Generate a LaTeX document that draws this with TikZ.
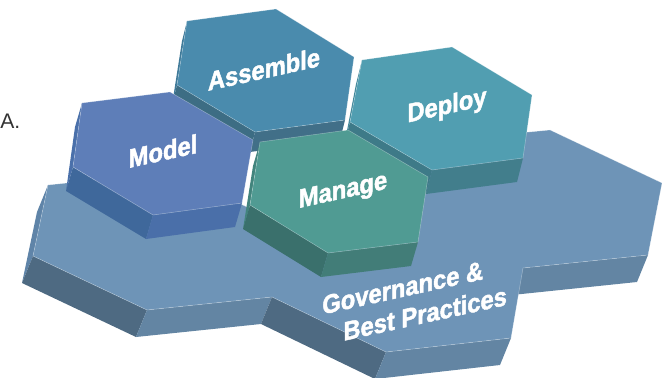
\documentclass[tikz,border=0pt]{standalone}
\usepackage{fontspec}
\setmainfont{Liberation Sans}
\newfontfamily\hexfont[FakeStretch=0.9, FakeBold=1.8]{Liberation Sans Bold}
\usetikzlibrary{calc}

\definecolor{basetop}{HTML}{6E94B7}
\definecolor{baseleft}{HTML}{5F84A8}
\definecolor{baselow}{HTML}{4E6A82}
\definecolor{basebot}{HTML}{6385A3}
\definecolor{modtop}{HTML}{5E7EB8}
\definecolor{modleft}{HTML}{4A70AA}
\definecolor{modlow}{HTML}{3F689B}
\definecolor{modbot}{HTML}{4A6FA9}
\definecolor{asmtop}{HTML}{4A8BAD}
\definecolor{asmleft}{HTML}{3F7A99}
\definecolor{asmlow}{HTML}{3D6D84}
\definecolor{asmbot}{HTML}{416F88}
\definecolor{deptop}{HTML}{519EB1}
\definecolor{depleft}{HTML}{43899B}
\definecolor{deplow}{HTML}{3E7A88}
\definecolor{depbot}{HTML}{427E8C}
\definecolor{mantop}{HTML}{509B93}
\definecolor{manleft}{HTML}{42847D}
\definecolor{manlow}{HTML}{3A706C}
\definecolor{manbot}{HTML}{427D78}

% #1 prefix of the corners (1 top left ... 6 left), #2 depth shift,
% #3 top, #4 left strip, #5 lower left side, #6 bottom side
\newcommand{\hexblock}[6]{%
  \fill[#4] (#1-1) -- (#1-6) -- ([shift={#2}]#1-6) -- ([shift={#2}]#1-1) -- cycle;
  \fill[#5] (#1-6) -- (#1-5) -- ([shift={#2}]#1-5) -- ([shift={#2}]#1-6) -- cycle;
  \fill[#6] (#1-5) -- (#1-4) -- ([shift={#2}]#1-4) -- ([shift={#2}]#1-5) -- cycle;
  \path[topface, fill=#3] (#1-1) -- (#1-2) -- (#1-3) -- (#1-4) -- (#1-5) -- (#1-6) -- cycle;
}

\begin{document}
\begin{tikzpicture}[x=0.02cm, y=-0.02cm,
  topface/.style={draw=white, draw opacity=0.35, line width=0.3pt, line join=round},
  hexlabel/.style={text=white, inner sep=0pt, yslant=0.22,
    font=\hexfont\fontsize{15}{17.6}\selectfont}]
  \useasboundingbox (0,0) rectangle (662,378);

  % base plate
  \coordinate (b1) at (48,185);
  \coordinate (b2) at (173,172);
  \coordinate (b3) at (287,226);
  \coordinate (b4) at (412,213);
  \coordinate (b5) at (427,142);
  \coordinate (b6) at (550,130);
  \coordinate (b7) at (662,183);
  \coordinate (b8) at (648,255);
  \coordinate (b9) at (523,268);
  \coordinate (b10) at (511,338);
  \coordinate (b11) at (386,352);
  \coordinate (b12) at (272,297);
  \coordinate (b13) at (147,310);
  \coordinate (b14) at (33,256);

  \fill[baseleft] (b1) -- (b14) -- ([shift={(-11,27)}]b14) -- ([shift={(-11,27)}]b1) -- cycle;
  \fill[baselow] (b14) -- (b13) -- ([shift={(-11,27)}]b13) -- ([shift={(-11,27)}]b14) -- cycle;
  \fill[basebot] (b13) -- (b12) -- ([shift={(-11,27)}]b12) -- ([shift={(-11,27)}]b13) -- cycle;
  \fill[baselow] (b12) -- (b11) -- ([shift={(-11,27)}]b11) -- ([shift={(-11,27)}]b12) -- cycle;
  \fill[basebot] (b11) -- (b10) -- ([shift={(-11,27)}]b10) -- ([shift={(-11,27)}]b11) -- cycle;
  \fill[basebot] (b9) -- (b8) -- ([shift={(-11,27)}]b8) -- ([shift={(-11,27)}]b9) -- cycle;
  \path[topface, fill=basetop] (b1) -- (b2) -- (b3) -- (b4) -- (b5) -- (b6) -- (b7)
    -- (b8) -- (b9) -- (b10) -- (b11) -- (b12) -- (b13) -- (b14) -- cycle;

  % Assemble
  \coordinate (as-1) at (187,21);
  \coordinate (as-2) at (276,9);
  \coordinate (as-3) at (354,57);
  \coordinate (as-4) at (345,120);
  \coordinate (as-5) at (255,132);
  \coordinate (as-6) at (177,85);
  \hexblock{as}{(-5,20)}{asmtop}{asmleft}{asmlow}{asmbot}

  % Deploy
  \coordinate (de-1) at (362,60);
  \coordinate (de-2) at (452,47);
  \coordinate (de-3) at (532,95);
  \coordinate (de-4) at (523,158);
  \coordinate (de-5) at (432,170);
  \coordinate (de-6) at (350,122);
  \hexblock{de}{(-6,24)}{deptop}{depleft}{deplow}{depbot}

  % Model
  \coordinate (mo-1) at (82,103);
  \coordinate (mo-2) at (170,92);
  \coordinate (mo-3) at (253,140);
  \coordinate (mo-4) at (242,203);
  \coordinate (mo-5) at (153,215);
  \coordinate (mo-6) at (73,167);
  \hexblock{mo}{(-7,24)}{modtop}{modleft}{modlow}{modbot}

  % Manage
  \coordinate (ma-1) at (260,142);
  \coordinate (ma-2) at (348,130);
  \coordinate (ma-3) at (428,177);
  \coordinate (ma-4) at (418,242);
  \coordinate (ma-5) at (328,253);
  \coordinate (ma-6) at (250,205);
  \hexblock{ma}{(-7,24)}{mantop}{manleft}{manlow}{manbot}

  % labels
  \node (assemble) [hexlabel] at (264,69) {Assemble};
  \node (deploy) [hexlabel] at (447,107) {Deploy};
  \node (model) [hexlabel] at (163,151) {Model};
  \node (manage) [hexlabel] at (343,192) {Manage};
  \node (govern) [hexlabel, anchor=west, align=left] at (322,321)
    {Governance \&\\\hspace*{12pt}Best Practices};
  \node (tag) [anchor=west, inner sep=0pt, text=black!80, font=\fontsize{12}{14}\selectfont] at (0,121) {A.};
\end{tikzpicture}
\end{document}
